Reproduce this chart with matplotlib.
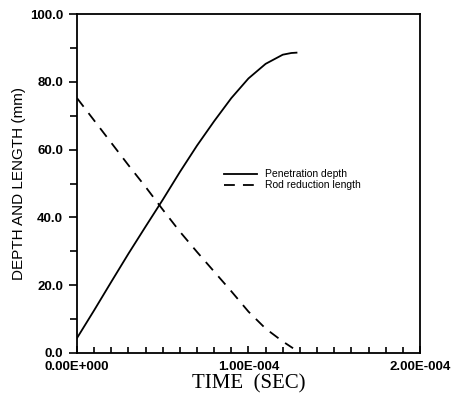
import numpy as np
import matplotlib
matplotlib.use('Agg')
import matplotlib.pyplot as plt
from matplotlib.ticker import MultipleLocator, FixedLocator

# time in seconds, values in mm
pen_time = [0.0, 1.0e-5, 2.0e-5, 3.0e-5, 4.0e-5, 5.0e-5, 6.0e-5, 7.0e-5,
            8.0e-5, 9.0e-5, 1.0e-4, 1.1e-4, 1.2e-4, 1.25e-4, 1.28e-4]
pen_depth = [4.4, 12.6, 21.0, 29.3, 37.3, 45.2, 53.4, 61.2,
             68.4, 75.2, 81.0, 85.3, 88.0, 88.5, 88.6]

rod_time = [0.0, 1.0e-5, 2.0e-5, 3.0e-5, 4.0e-5, 5.0e-5, 6.0e-5, 7.0e-5,
            8.0e-5, 9.0e-5, 1.0e-4, 1.1e-4, 1.2e-4, 1.26e-4]
rod_length = [75.2, 68.6, 62.0, 55.4, 49.0, 42.3, 35.8, 29.8,
              24.0, 18.2, 12.2, 7.2, 3.4, 1.4]

x_major = [0.0, 1.0e-4, 2.0e-4]
x_labels = ['0.00E+000', '1.00E-004', '2.00E-004']
y_major = [0, 20, 40, 60, 80, 100]
y_labels = ['0.0', '20.0', '40.0', '60.0', '80.0', '100.0']

fig = plt.figure(figsize=(4.54, 3.96), dpi=100)
ax = fig.add_axes([0.1696, 0.1086, 0.7554, 0.856])

ax.plot(pen_time, pen_depth, color='black', lw=1.3, label='Penetration depth')
ax.plot(rod_time, rod_length, color='black', lw=1.3, dashes=(6, 4.5),
        label='Rod reduction length')

ax.set_xlim(0, 2.0e-4)
ax.set_ylim(0, 100)

ax.xaxis.set_major_locator(FixedLocator(x_major))
ax.set_xticklabels(x_labels, fontsize=9.5, fontweight='bold', family='Liberation Sans')
ax.xaxis.set_minor_locator(MultipleLocator(1.0e-5))
ax.yaxis.set_major_locator(FixedLocator(y_major))
ax.set_yticklabels(y_labels, fontsize=9.5, fontweight='bold', family='Liberation Sans')
ax.yaxis.set_minor_locator(MultipleLocator(10))

ax.tick_params(axis='x', which='both', direction='in', length=5, width=1.2, pad=5.5)
ax.tick_params(axis='x', which='minor', length=4)
ax.tick_params(axis='y', which='both', direction='out', length=6, width=1.2, pad=4)
ax.tick_params(axis='y', which='minor', length=5)
for s in ax.spines.values():
    s.set_linewidth(1.3)

ax.set_xlabel('TIME  (SEC)', family='Liberation Serif', fontsize=15, labelpad=1)
ax.set_ylabel('DEPTH AND LENGTH (mm)', family='Liberation Sans', fontsize=11, labelpad=3)

ax.legend(loc='upper left', bbox_to_anchor=(0.4, 0.57), frameon=False,
          handlelength=3.2, handletextpad=0.8, labelspacing=0.1,
          prop={'family': 'Liberation Sans', 'size': 7.5})

fig.savefig('out.png', dpi=100)
